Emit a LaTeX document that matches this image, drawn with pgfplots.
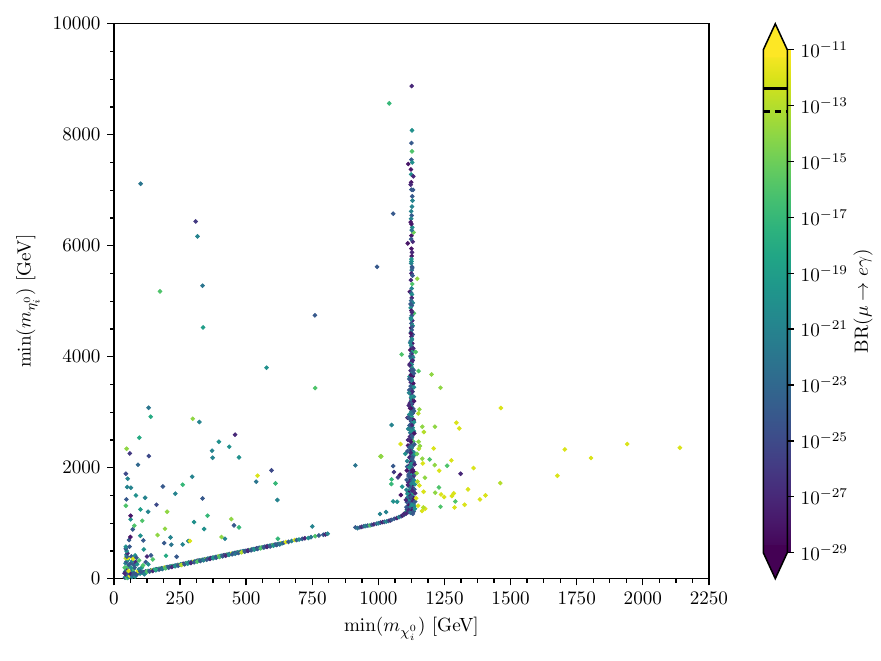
\documentclass[border=0pt]{standalone}
\usepackage{pgfplots}
\pgfplotsset{compat=1.18}
\definecolor{cbtop}{HTML}{FDE725}
\definecolor{cbbot}{HTML}{440154}
\begin{document}
\begin{tikzpicture}
\useasboundingbox (0,0) rectangle (460.8pt,345.6pt);
\begin{axis}[
  at={(59.6pt,42.9pt)}, anchor=south west,
  scale only axis, width=311.2pt, height=290.3pt,
  xmin=0, xmax=2250, ymin=0, ymax=10000,
  xtick={0,250,...,2250}, ytick={0,2000,...,10000},
  minor x tick num=3, minor y tick num=3,
  scaled x ticks=false, scaled y ticks=false,
  tick pos=left, tick align=outside,
  major tick length=3.5pt, minor tick length=2pt,
  every tick/.style={black, line width=0.7pt},
  axis line style={line width=0.8pt},
  /pgf/number format/1000 sep={},
  xlabel={$\min(m_{\chi^0_i})$ [GeV]},
  ylabel={$\min(m_{\eta^0_i})$ [GeV]},
  colormap/viridis,
  point meta min=-29, point meta max=-11,
  colorbar,
  colorbar style={
    at={(parent axis.east)}, anchor=west, xshift=19.9pt,
    scale only axis, width=12.55pt, height=263pt,
    ytick={-29,-27,...,-11},
    yticklabels={$10^{-29}$,$10^{-27}$,$10^{-25}$,$10^{-23}$,$10^{-21}$,$10^{-19}$,$10^{-17}$,$10^{-15}$,$10^{-13}$,$10^{-11}$},
    ytick pos=right, tick align=outside, major tick length=3.5pt,
    every tick/.style={black, line width=0.7pt},
    axis line style={line width=0.8pt},
    ylabel={BR$(\mu\to e\gamma)$},
    ylabel style={xshift=0pt, yshift=4pt},
    clip=false,
    after end axis/.code={
      \fill[cbtop] (rel axis cs:0,0.985) -- (rel axis cs:0,1) -- (rel axis cs:0.5,1.0517) -- (rel axis cs:1,1) -- (rel axis cs:1,0.985) -- cycle;
      \fill[cbbot] (rel axis cs:0,0.015) -- (rel axis cs:0,0) -- (rel axis cs:0.5,-0.0517) -- (rel axis cs:1,0) -- (rel axis cs:1,0.015) -- cycle;
      \draw[line width=0.8pt, line join=miter] (rel axis cs:0,0) -- (rel axis cs:0,1) -- (rel axis cs:0.5,1.0517) -- (rel axis cs:1,1) -- (rel axis cs:1,0) -- (rel axis cs:0.5,-0.0517) -- cycle;
      \draw[line width=1.5pt] (rel axis cs:0,0.9235) -- (rel axis cs:1,0.9235);
      \draw[line width=1.5pt, dash pattern=on 3.5pt off 2.5pt] (rel axis cs:0,0.8766) -- (rel axis cs:1,0.8766);
    },
  },
]
\addplot[scatter, only marks, mark=*, mark size=1pt, point meta=explicit,
  scatter/use mapped color={draw=mapped color, fill=mapped color}]
  table[row sep=\\, x=x, y=y, meta=c] {
x y c\\
60 70 -24\\ 66 80 -20\\ 72 78 -27\\ 78 90 -16\\ 84 92 -24\\ 90 100 -21\\ 96 104 -12\\ 102 110 -24\\
108 118 -20\\ 114 120 -27\\ 120 130 -24\\ 126 136 -16\\ 132 140 -22\\ 138 148 -24\\ 144 150 -13\\
150 160 -20\\ 156 164 -24\\ 162 170 -27\\ 168 175 -21\\ 174 182 -16\\ 180 188 -24\\ 186 192 -20\\
192 200 -12\\ 198 205 -24\\ 204 212 -22\\ 210 216 -27\\ 216 224 -20\\ 222 228 -16\\ 228 234 -24\\
234 240 -21\\ 240 246 -24\\ 246 252 -13\\ 252 258 -20\\ 258 264 -24\\ 264 270 -27\\ 270 276 -22\\
276 282 -16\\ 282 290 -24\\ 288 294 -20\\ 294 300 -24\\ 300 306 -12\\ 306 312 -21\\ 312 318 -24\\
318 326 -27\\ 324 330 -20\\ 330 336 -16\\ 336 342 -24\\ 342 348 -22\\ 348 354 -14\\ 354 360 -24\\
360 366 -20\\ 366 372 -27\\ 372 378 -24\\ 378 384 -17\\ 384 390 -24\\ 390 396 -21\\ 396 402 -13\\
402 408 -24\\ 408 414 -20\\ 414 420 -27\\ 420 426 -24\\ 426 432 -16\\ 432 438 -22\\ 438 444 -24\\
444 450 -12\\ 450 456 -20\\ 456 462 -24\\ 462 468 -27\\ 468 474 -21\\ 474 480 -16\\ 480 486 -24\\
486 492 -20\\ 492 498 -24\\ 498 502 -22\\ 504 508 -27\\ 510 514 -24\\ 516 520 -15\\ 522 528 -24\\
528 532 -20\\ 534 538 -24\\ 540 546 -27\\ 546 552 -21\\ 552 558 -24\\ 558 562 -16\\ 564 568 -24\\
570 576 -22\\ 576 580 -27\\ 582 588 -24\\ 588 592 -20\\ 594 600 -24\\ 600 606 -15\\ 606 612 -27\\
612 616 -24\\ 618 622 -20\\ 624 630 -24\\ 630 636 -12\\ 636 640 -21\\ 642 648 -24\\
63 58 -21\\ 75 68 -24\\ 87 82 -27\\ 99 92 -20\\ 111 104 -24\\ 123 116 -16\\ 135 128 -24\\ 147 140 -27\\
159 152 -20\\ 171 164 -24\\ 183 176 -22\\ 195 188 -16\\ 207 200 -24\\ 219 212 -27\\ 231 224 -20\\
243 236 -24\\ 255 248 -13\\ 267 260 -24\\ 279 272 -20\\ 291 284 -27\\ 303 296 -24\\ 315 308 -16\\
327 320 -24\\ 339 332 -21\\ 351 344 -24\\ 363 356 -27\\ 375 368 -20\\ 387 380 -24\\ 399 392 -16\\
411 404 -24\\ 423 416 -27\\ 435 428 -20\\ 447 440 -24\\ 459 452 -22\\ 471 464 -24\\ 483 476 -13\\
495 488 -24\\ 507 500 -27\\ 519 512 -24\\ 531 524 -20\\ 543 536 -24\\ 555 548 -16\\ 567 560 -24\\
579 572 -27\\ 591 584 -24\\ 603 596 -20\\ 615 608 -24\\ 627 620 -22\\
650 660 -12\\ 660 665 -24\\ 672 680 -21\\ 684 697 -12\\ 691 697 -24\\ 700 705 -20\\ 712 718 -24\\
722 728 -27\\ 735 733 -20\\ 745 750 -22\\ 761 766 -16\\ 775 780 -24\\ 792 793 -24\\ 800 798 -27\\ 808 810 -21\\
913 925 -24\\ 921 913 -22\\ 930 925 -24\\ 937 935 -27\\ 945 945 -24\\ 952 950 -21\\ 960 958 -24\\
968 961 -16\\ 975 972 -24\\ 983 980 -27\\ 993 991 -24\\ 1000 1000 -21\\ 1008 1012 -24\\ 1016 1020 -28\\
1023 1025 -24\\ 1031 1033 -20\\ 1038 1042 -24\\ 1045 1052 -27\\ 1050 1060 -24\\
1060 1080 -24\\ 1070 1095 -27\\ 1078 1110 -21\\ 1086 1125 -24\\ 1092 1140 -28\\ 1097 1155 -24\\
1102 1170 -20\\ 1105 1200 -27\\ 1108 1250 -24\\ 1104 1190 -18\\ 1096 1165 -27\\
42 20 -24\\ 45 40 -20\\ 48 60 -27\\ 50 15 -16\\ 52 85 -24\\ 55 30 -21\\ 58 110 -24\\ 60 50 -12\\
43 130 -20\\ 46 160 -24\\ 50 190 -27\\ 53 220 -16\\ 56 250 -24\\ 44 280 -21\\ 48 310 -24\\ 52 340 -20\\
45 370 -13\\ 53 373 -12\\ 49 400 -24\\ 47 430 -21\\ 51 460 -27\\ 48 499 -20\\ 45 540 -24\\ 45 577 -20\\
59 577 -24\\ 57 697 -24\\ 62 751 -28\\ 66 140 -24\\ 70 120 -20\\ 74 170 -16\\ 78 200 -24\\ 62 90 -27\\
68 30 -21\\ 72 60 -24\\ 80 40 -20\\ 85 70 -24\\ 90 140 -12\\ 95 170 -21\\ 100 130 -24\\ 105 200 -20\\
110 240 -16\\ 64 280 -24\\ 70 320 -21\\ 76 250 -24\\ 82 300 -27\\ 88 260 -20\\ 66 400 -24\\ 72 360 -12\\
80 420 -20\\ 85 380 -24\\ 95 330 -16\\ 100 775 -20\\ 111 690 -24\\ 113 528 -20\\ 71 889 -24\\ 77 955 -16\\
63 1069 -20\\ 63 1135 -28\\ 107 1045 -16\\ 45 1315 -16\\ 47 1429 -24\\ 118 1459 -21\\ 100 1249 -19\\
129 1207 -21\\ 83 1501 -20\\ 50 1652 -21\\ 64 1640 -21\\ 52 1802 -21\\ 45 1892 -25\\ 91 2054 -23\\
132 2210 -25\\ 60 2258 -26\\ 48 2342 -14\\ 96 2541 -18\\ 147 348 -16\\ 157 168 -18\\ 120 300 -24\\
130 260 -20\\ 125 400 -27\\ 140 420 -24\\ 115 80 -21\\ 40 100 -27\\ 41 200 -16\\ 55 140 -12\\ 65 200 -20\\ 75 100 -24\\
161 1333 -25\\ 185 1663 -24\\ 201 1207 -14\\ 165 787 -14\\ 193 901 -14\\ 190 643 -24\\ 214 745 -21\\
217 613 -22\\ 197 414 -18\\ 232 1532 -21\\ 260 1694 -17\\ 237 396 -24\\ 260 618 -21\\ 281 679 -21\\
287 680 -12\\ 296 1838 -21\\ 303 1021 -20\\ 335 1447 -24\\ 354 1135 -17\\ 341 895 -20\\ 371 2306 -21\\
373 2180 -21\\ 397 2468 -20\\ 436 2378 -20\\ 458 2595 -27\\ 473 2186 -20\\ 407 751 -14\\ 420 720 -21\\
444 1075 -14\\ 454 961 -24\\ 473 925 -17\\ 543 1856 -12\\ 538 1748 -22\\ 596 1952 -25\\ 611 1717 -17\\
618 1418 -21\\ 620 720 -17\\ 750 942 -21\\ 913 2042 -22\\ 1006 1166 -21\\ 1029 1201 -21\\ 1008 2204 -14\\
1084 2426 -12\\ 1050 2769 -21\\ 1011 2204 -14\\
101 7117 -22\\ 309 6438 -26\\ 316 6168 -21\\ 335 5279 -22\\ 174 5177 -16\\ 760 4745 -24\\ 337 4528 -19\\
577 3802 -20\\ 761 3436 -16\\ 131 3081 -22\\ 139 2919 -18\\ 298 2883 -14\\ 323 2823 -21\\ 1041 8565 -17\\
1056 6577 -24\\ 995 5620 -24\\
1056 2030 -24\\ 1059 1922 -26\\ 1050 1790 -17\\ 1049 1706 -17\\ 1074 1826 -26\\ 1082 1874 -28\\
1102 2252 -20\\ 1090 1658 -20\\ 1085 1508 -28\\ 1056 1393 -20\\ 1071 1387 -20\\ 1109 2018 -24\\
1126 8877 -27\\ 1127 8078 -20\\ 1125 7850 -24\\ 1127 7700 -16\\ 1125 7550 -24\\ 1113 7472 -28\\
1128 7500 -20\\ 1123 7374 -28\\ 1124 7285 -20\\ 1132 7250 -27\\ 1124 7142 -28\\ 1122 7100 -27\\
1125 7010 -24\\ 1131 7005 -24\\ 1128 6890 -24\\ 1129 6812 -21\\ 1127 6705 -21\\ 1126 6546 -24\\
1124 6486 -21\\ 1122 6426 -28\\ 1128 6330 -20\\ 1133 6240 -15\\ 1125 6180 -28\\ 1111 6043 -28\\
1130 6072 -27\\ 1125 5946 -28\\ 1126 5814 -28\\ 1125 5718 -20\\ 1124 5680 -21\\ 1127 5620 -24\\
1126 5560 -22\\ 1125 5500 -27\\ 1129 5460 -24\\ 1147 5405 -14\\ 1128 5310 -16\\ 1119 5171 -28\\
1124 5150 -24\\ 1127 5120 -20\\ 1126 5060 -27\\ 1124 5010 -23\\ 1130 4970 -21\\ 1126 4920 -24\\
1122 4880 -20\\ 1125 4830 -28\\ 1134 4783 -16\\ 1126 4740 -24\\ 1123 4700 -21\\ 1128 4650 -27\\
1125 4600 -24\\ 1129 4560 -19\\ 1124 4520 -28\\ 1126 4480 -24\\ 1123 4440 -21\\ 1130 4400 -24\\
1125 4360 -27\\ 1127 4320 -20\\ 1122 4280 -24\\ 1128 4240 -28\\ 1124 4200 -21\\ 1126 4160 -24\\
1121 4120 -28\\ 1131 4100 -18\\ 1088 4041 -16\\ 1125 4060 -24\\ 1127 4020 -27\\ 1123 3980 -20\\
1129 3940 -24\\ 1125 3900 -28\\ 1126 3860 -21\\ 1124 3820 -24\\ 1128 3790 -18\\ 1122 3750 -27\\
1127 3720 -24\\ 1125 3680 -20\\ 1130 3650 -28\\ 1124 3610 -24\\ 1126 3580 -21\\ 1123 3540 -27\\
1128 3500 -24\\ 1125 3470 -19\\ 1127 3430 -28\\ 1122 3400 -24\\ 1129 3370 -21\\ 1124 3330 -27\\
1126 3300 -24\\ 1131 3270 -16\\ 1125 3240 -28\\ 1123 3200 -22\\ 1128 3170 -24\\ 1126 3140 -27\\
1124 3100 -20\\ 1120 3070 -28\\ 1127 3040 -24\\ 1125 3010 -21\\ 1129 2980 -27\\ 1123 2950 -24\\
1126 2920 -18\\ 1110 2900 -28\\ 1128 2870 -24\\ 1124 2840 -27\\ 1127 2810 -21\\ 1122 2780 -24\\
1125 2750 -28\\ 1130 2720 -20\\ 1124 2690 -24\\ 1126 2660 -27\\ 1121 2630 -22\\ 1128 2600 -24\\
1125 2570 -28\\ 1127 2540 -19\\ 1123 2510 -24\\ 1126 2480 -27\\ 1129 2450 -21\\ 1124 2420 -24\\
1112 2400 -28\\ 1127 2380 -24\\ 1125 2350 -20\\ 1122 2320 -27\\ 1128 2290 -24\\ 1124 2260 -28\\
1126 2230 -21\\ 1131 2200 -24\\ 1120 2180 -27\\ 1127 2150 -22\\ 1125 2120 -24\\ 1123 2090 -28\\
1128 2060 -20\\ 1117 2040 -27\\ 1126 2010 -24\\ 1124 1980 -21\\ 1130 1960 -27\\ 1121 1930 -24\\
1127 1900 -28\\ 1115 1880 -24\\ 1125 1860 -20\\ 1132 1840 -27\\ 1119 1820 -24\\ 1128 1800 -22\\
1123 1780 -28\\ 1126 1760 -24\\ 1113 1740 -27\\ 1130 1720 -20\\ 1121 1700 -24\\ 1127 1680 -28\\
1116 1660 -22\\ 1124 1640 -24\\ 1133 1620 -27\\ 1119 1600 -21\\ 1128 1580 -24\\ 1112 1560 -28\\
1125 1540 -24\\ 1131 1520 -18\\ 1118 1500 -27\\ 1126 1480 -24\\ 1110 1460 -22\\ 1123 1440 -28\\
1129 1420 -24\\ 1115 1400 -20\\ 1127 1380 -27\\ 1120 1360 -24\\ 1132 1340 -22\\ 1113 1320 -28\\
1125 1300 -24\\ 1118 1280 -21\\ 1128 1260 -27\\ 1121 1240 -24\\ 1109 1230 -20\\ 1126 1220 -28\\
1116 1200 -24\\ 1123 1185 -22\\ 1105 1175 -27\\ 1130 1170 -24\\
1131 3990 -21\\ 1119 3870 -27\\ 1133 3760 -24\\ 1118 3640 -20\\ 1132 3520 -28\\ 1117 3400 -24\\
1134 3280 -21\\ 1119 3160 -27\\ 1132 3060 -24\\ 1117 2960 -20\\ 1133 2860 -28\\ 1118 2760 -24\\
1134 2660 -21\\ 1119 2560 -27\\ 1132 2470 -16\\ 1117 2370 -24\\ 1133 2280 -21\\ 1118 2190 -27\\
1134 2100 -24\\ 1116 2010 -20\\ 1133 1930 -28\\ 1114 1850 -24\\ 1135 1770 -21\\ 1112 1690 -27\\
1136 1610 -24\\ 1110 1530 -20\\ 1134 1450 -28\\ 1108 1380 -24\\ 1136 1310 -21\\ 1111 1250 -27\\
1133 1210 -24\\ 1126 1330 -20\\ 1122 1470 -24\\ 1129 1590 -27\\ 1125 1710 -21\\ 1121 1830 -24\\
1127 1950 -28\\ 1124 2070 -20\\ 1128 2170 -24\\ 1122 2270 -27\\ 1126 2370 -22\\ 1123 2470 -28\\
1127 2570 -24\\ 1124 2670 -20\\ 1128 2770 -27\\ 1121 2870 -24\\ 1126 2970 -22\\ 1123 3070 -28\\
1127 3170 -24\\ 1124 3270 -20\\ 1128 3370 -27\\ 1122 3470 -24\\ 1126 3570 -21\\ 1123 3670 -28\\
1127 3770 -24\\ 1124 3870 -20\\ 1129 3930 -27\\ 1121 4010 -24\\ 1126 4300 -21\\ 1123 4420 -28\\
1128 4540 -24\\ 1124 4680 -20\\ 1127 4800 -27\\ 1122 4950 -24\\ 1126 5230 -21\\ 1123 5380 -27\\
1128 5600 -24\\ 1125 5760 -20\\ 1127 5880 -27\\ 1124 6120 -24\\ 1126 6280 -22\\ 1125 6390 -28\\ 1124 6620 -21\\
1106 1290 -24\\ 1138 1260 -20\\ 1104 1420 -27\\ 1139 1390 -24\\ 1106 1600 -21\\ 1139 1540 -27\\
1107 1780 -24\\ 1138 1700 -20\\ 1108 1950 -28\\ 1138 1880 -24\\ 1109 2120 -21\\ 1137 2060 -27\\
1110 2300 -24\\ 1137 2240 -20\\ 1112 2500 -27\\ 1136 2420 -24\\ 1113 2700 -21\\ 1136 2620 -28\\
1114 2900 -24\\ 1135 2820 -20\\ 1115 3120 -27\\ 1135 3020 -24\\ 1116 3350 -21\\ 1135 3200 -28\\
1117 3600 -24\\ 1134 3450 -20\\ 1118 3850 -27\\ 1134 3700 -24\\ 1120 4250 -21\\ 1132 4150 -27\\
1201 3681 -14\\ 1235 3441 -14\\ 1295 2811 -12\\ 1306 2709 -12\\ 1214 2739 -14\\ 1166 2739 -14\\
1172 2643 -13\\ 1209 2348 -12\\ 1166 2162 -14\\ 1194 2150 -16\\ 1213 2048 -14\\ 1230 1946 -12\\
1276 2132 -12\\ 1260 2036 -16\\ 1360 1994 -12\\ 1311 1892 -27\\ 1176 1820 -14\\ 1155 1681 -12\\
1229 1645 -16\\ 1171 1568 -12\\ 1215 1550 -14\\ 1237 1519 -12\\ 1285 1537 -12\\ 1278 1490 -12\\
1249 1472 -12\\ 1339 1610 -12\\ 1405 1502 -12\\ 1384 1429 -12\\ 1291 1393 -16\\ 1326 1333 -12\\
1288 1285 -12\\ 1235 1297 -16\\ 1177 1261 -12\\ 1170 1285 -13\\ 1165 1220 -12\\ 1150 1315 -12\\
1155 3051 -14\\ 1151 2979 -13\\ 1157 2391 -14\\ 1153 2342 -13\\ 1168 2077 -12\\ 1152 2468 -14\\
1152 3742 -16\\ 1141 4084 -16\\ 1145 1900 -14\\ 1148 1750 -13\\ 1143 1450 -12\\ 1146 2250 -15\\
1463 3076 -12\\ 1705 2330 -12\\ 1804 2175 -12\\ 1941 2427 -12\\ 2140 2360 -12\\ 1677 1856 -12\\
1461 1724 -13\\
};
\end{axis}
\end{tikzpicture}
\end{document}
